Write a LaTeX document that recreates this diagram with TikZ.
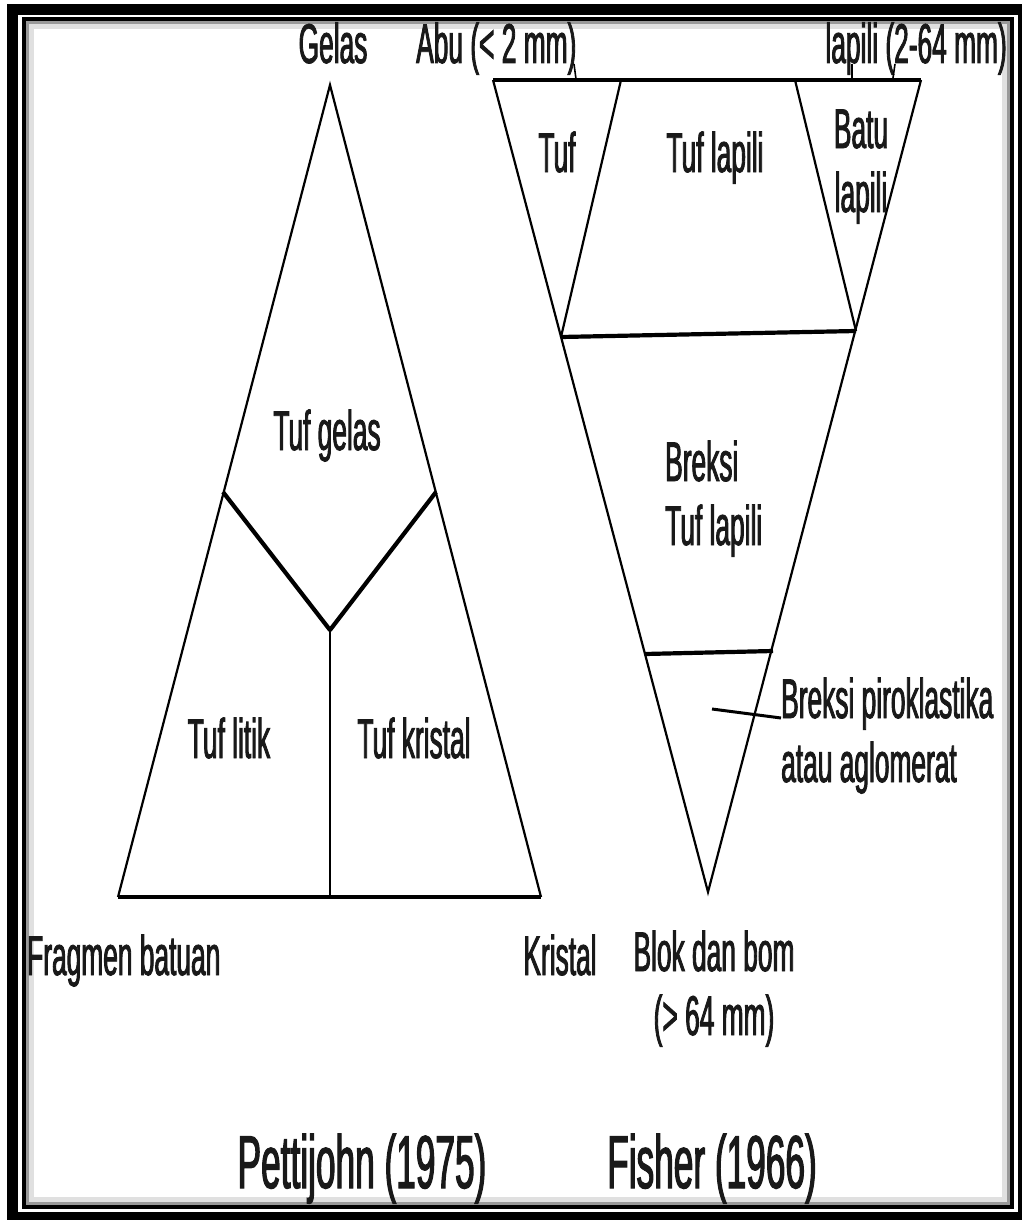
\documentclass[tikz,border=0pt]{standalone}
\usepackage{fontspec}
\newfontfamily\narrowsans[FakeStretch=0.47,FakeBold=1.5]{Liberation Sans}
\usetikzlibrary{calc}
\tikzset{every node/.style={font=\narrowsans\fontsize{56}{64}\selectfont,
    text=black!90,inner sep=0pt},
  side/.style={line width=2.2pt},
  divide/.style={line width=4.2pt},
  tick/.style={line width=1.6pt},
  titletext/.style={font=\narrowsans\fontsize{75}{80}\selectfont}}

\begin{document}
\begin{tikzpicture}[x=1pt,y=-1pt]
  \useasboundingbox (0,0) rectangle (1022,1220);
  % frame
  \draw[line width=11pt] (12.5,9.5) rectangle (1023,1217.5);
  \draw[line width=4pt] (24,19.5) rectangle (1012,1206.5);
  \draw[black!40,line width=3pt] (27.5,23) rectangle (1008.5,1203);
  \draw[black!12,line width=5pt] (31.5,27) rectangle (1004.5,1199);

  % Pettijohn (1975)
  \coordinate (glass) at (330,85);
  \coordinate (rockfrag) at (118,897);
  \coordinate (crystal) at (541,897);
  \coordinate (yleft) at (223,492);
  \coordinate (yright) at (436,492);
  \coordinate (ymid) at (330,630);
  \draw[side] (rockfrag) -- (glass) -- (crystal);
  \draw[line width=3.4pt] (rockfrag) -- (crystal);
  \draw[divide,line join=round] (yleft) -- (ymid) -- (yright);
  \draw[side,line width=1.8pt] (ymid) -- (ymid |- crystal);

  \node[anchor=base] (gelas) at (333,63) {Gelas};
  \node[anchor=base] (tufgelas) at (327,450) {Tuf gelas};
  \node[anchor=base] (tuflitik) at (229,758) {Tuf litik};
  \node[anchor=base] (tufkristal) at (414,758) {Tuf kristal};
  \node[anchor=base west] (fragmen) at (27,975) {Fragmen batuan};
  \node[anchor=base] (kristal) at (560,975) {Kristal};

  % Fisher (1966)
  \coordinate (ash) at (493,80);
  \coordinate (lapilli) at (921,80);
  \coordinate (bomb) at (708,892);
  \coordinate (upl) at (561,337);
  \coordinate (upr) at (856,331);
  \coordinate (lowl) at (645,654);
  \coordinate (lowr) at (773,651);
  \draw[side] (ash) -- (bomb) -- (lapilli);
  \draw[divide] (ash) -- (lapilli);
  \draw[side] (621,80) -- (upl);
  \draw[side] (795,80) -- (upr);
  \draw[divide] (upl) -- (upr);
  \draw[divide] (lowl) -- (lowr);

  \node[anchor=base west] (abu) at (416,63) {Abu (< 2 mm)};
  \node[anchor=base east] (lapsize) at (1007,63) {lapili (2-64 mm)};
  \draw[tick] (574,64) -- (576,79);
  \draw[tick] (852,64) -- (852,79);
  \draw[tick] (895,64) -- (893,78);
  \node[anchor=base] (tuf) at (557,172) {Tuf};
  \node[anchor=base] (tuflapili) at (715,172) {Tuf lapili};
  \node[anchor=base,align=center] (batulapili) at (861,212) {Batu\\lapili};
  \node[anchor=base west,align=left] (brekstuf) at (665,545) {Breksi\\Tuf lapili};
  \node[anchor=base west,align=left] (brekpiro) at (781,782)
    {Breksi piroklastika\\atau aglomerat};
  \coordinate (pirozone) at (712,709);
  \draw[line width=3pt] (pirozone) -- ($(brekpiro.base west)+(0,-64)$);
  \node[anchor=base,align=center] (blokbom) at (714,1035) {Blok dan bom\\(> 64 mm)};

  \node[titletext,anchor=base] (pettijohn) at (362,1188) {Pettijohn (1975)};
  \node[titletext,anchor=base] (fisher) at (712,1188) {Fisher (1966)};
\end{tikzpicture}
\end{document}
